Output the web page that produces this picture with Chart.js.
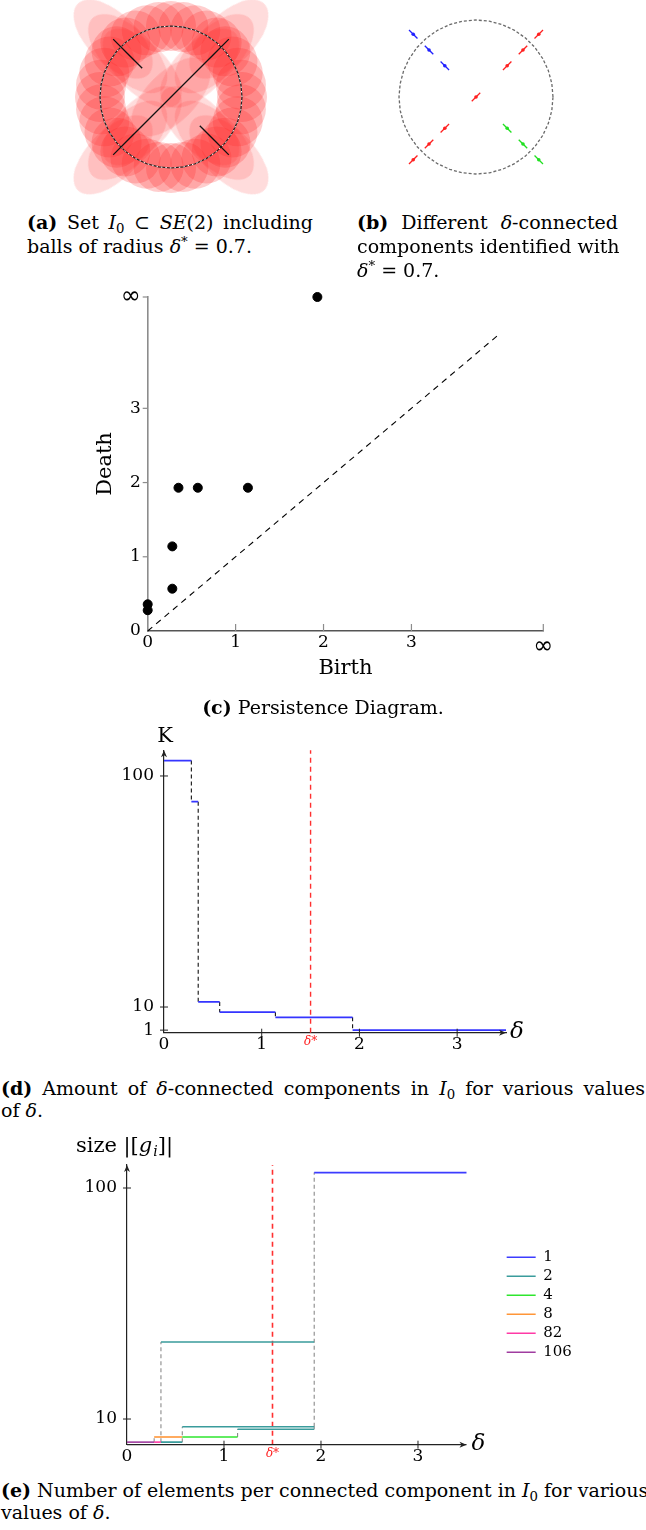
<!DOCTYPE html>
<html>
<head>
<meta charset="utf-8">
<script src="https://cdn.jsdelivr.net/npm/chart.js@4.4.1/dist/chart.umd.min.js"></script>
<style>
  body { margin: 0; background: #fff; }
  #page { position: relative; width: 646px; height: 1530px; overflow: hidden; font-family: 'DejaVu Serif', serif; color: #000; }
  canvas { position: absolute; }
  .cap { position: absolute; font-size: 19px; line-height: 24px; white-space: nowrap; }
  .just { text-align: justify; text-align-last: justify; }
  .cap sub { font-size: 70%; vertical-align: -0.3em; line-height: 0; }
  .cap sup { font-size: 70%; vertical-align: 0.5em; line-height: 0; }
</style>
</head>
<body>
<div id="page">
  <canvas id="ballsA" width="250" height="200" style="left:46px;top:-3px"></canvas>
  <canvas id="compsB" width="250" height="200" style="left:351px;top:-3px"></canvas>
  <canvas id="pers" width="540" height="430" style="left:40px;top:270px"></canvas>
  <canvas id="count" width="500" height="350" style="left:60px;top:720px"></canvas>
  <canvas id="sizes" width="626" height="345" style="left:20px;top:1130px"></canvas>

  <div class="cap just" style="left:27px;top:210px;width:286px"><b>(a)</b> Set <i>I</i><sub>0</sub> ⊂ <i>SE</i>(2) including</div>
  <div class="cap" style="left:27px;top:234px">balls of radius <i>δ</i><sup>*</sup> = 0.7.</div>
  <div class="cap just" style="left:357px;top:210px;width:261px"><b>(b)</b> Different <i>δ</i>-connected</div>
  <div class="cap just" style="left:357px;top:234px;width:261px">components identified with</div>
  <div class="cap" style="left:357px;top:258px"><i>δ</i><sup>*</sup> = 0.7.</div>
  <div class="cap" style="left:0;top:695px;width:646px;text-align:center"><b>(c)</b> Persistence Diagram.</div>
  <div class="cap just" style="left:1px;top:1076px;width:644px"><b>(d)</b> Amount of <i>δ</i>-connected components in <i>I</i><sub>0</sub> for various values</div>
  <div class="cap" style="left:1px;top:1098px">of <i>δ</i>.</div>
  <div class="cap just" style="left:1px;top:1478px;width:644px"><b>(e)</b> Number of elements per connected component in <i>I</i><sub>0</sub> for various</div>
  <div class="cap" style="left:1px;top:1500px">values of <i>δ</i>.</div>
</div>
<script>
// sample set I0: points on the circle plus three diagonal arms
const ringAngles = [0, 10, 20, 30, 40, 50, 60, 70, 80, 90, 100, 110, 120, 130, 140, 150, 160, 170,
                    180, 190, 200, 210, 220, 230, 240, 250, 260, 270, 280, 290, 300, 310, 320, 330, 340, 350];
const ringRadius = 2;
const armX = [-0.81, -1.22, -1.63, 0.81, 1.22, 1.63, 0, -0.81, -1.22, -1.63, 0.81, 1.22, 1.63];
const armY = [0.81, 1.22, 1.63, 0.81, 1.22, 1.63, 0, -0.81, -1.22, -1.63, -0.81, -1.22, -1.63];
const armTilt = [45, 45, 45, -45, -45, -45, -45, -45, -45, -45, 45, 45, 45];
const armComponent = [1, 1, 1, 2, 2, 2, 2, 2, 2, 2, 3, 3, 3];

// persistence diagram
const pdBirth = [0, 0, 0.28, 0.28, 0.35, 0.57, 1.14, 1.93];
const pdDeath = [0.28, 0.36, 0.57, 1.14, 1.93, 1.93, 1.93, Infinity];
const pdTicks = [0, 1, 2, 3, Infinity];
const diagEnd = 4;

// number of components K against delta
const kDelta = [0, 0.28, 0.35, 0.57, 1.14, 1.93, 3.5];
const kCount = [106, 90, 12, 8, 6, 1];
const kTicks = [1, 10, 100];
const deltaTicks = [0, 1, 1.5, 2, 3];
const deltaStar = 1.5;

// component sizes against delta (horizontal pieces: from, to, size)
const sizeLabels = ['1', '2', '4', '8', '82', '106'];
const s1From = [1.93], s1To = [3.5], s1Size = [106];
const s2From = [0.35, 0.57, 1.14, 0.35], s2To = [0.57, 1.93, 1.93, 1.93], s2Size = [1, 7, 6, 40];
const s4From = [0.57], s4To = [1.14], s4Size = [3];
const s8From = [0.28], s8To = [0.57], s8Size = [3];
const s82From = [0.28], s82To = [0.35], s82Size = [1];
const s106From = [0], s106To = [0.28], s106Size = [1];
const mergeAt = [0.28, 0.35, 0.57, 1.14, 1.93, 1.93];
const mergeFrom = [1, 1, 1, 3, 6, 7];
const mergeTo = [3, 40, 7, 6, 7, 106];
const sizeTicks = [10, 100];

const SERIF = 'DejaVu Serif';
Chart.defaults.font.family = SERIF;
Chart.defaults.color = '#000';

const infPos = 4.5;
const toPos = v => (v === Infinity ? infPos : v);
const ringPts = ringAngles.map(a => ({ x: ringRadius * Math.cos(a * Math.PI / 180), y: ringRadius * Math.sin(a * Math.PI / 180) }));
const ringLoop = ringPts.concat([ringPts[0]]);
const armPts = armX.map((x, i) => ({ x: x, y: armY[i] }));
const nwArm = armPts.slice(0, 3);
const mainArm = [armPts[9], armPts[8], armPts[7], armPts[6], armPts[3], armPts[4], armPts[5]];
const seArm = armPts.slice(10, 13);
const compColor = { 1: '#2020ff', 2: '#ff2020', 3: '#20e020' };

function fixedTicks(values) {
  return scale => { scale.ticks = values.map(v => ({ value: v })); };
}
function segments(from, to, level) {
  const pts = [];
  from.forEach((f, i) => { pts.push({ x: f, y: level[i] }, { x: to[i], y: level[i] }, { x: to[i], y: null }); });
  return pts;
}
function links(at, lo, hi) {
  const pts = [];
  at.forEach((a, i) => { pts.push({ x: a, y: lo[i] }, { x: a, y: hi[i] }, { x: a, y: null }); });
  return pts;
}
function stamp(w, h, color) {
  const c = document.createElement('canvas');
  c.width = w; c.height = h;
  const g = c.getContext('2d');
  g.fillStyle = color;
  g.beginPath(); g.ellipse(w / 2, h / 2, w / 2, h / 2, 0, 0, Math.PI * 2); g.fill();
  return c;
}
function arrowUp(ctx, x, y) {
  ctx.beginPath(); ctx.moveTo(x, y); ctx.lineTo(x - 3, y + 7); ctx.lineTo(x, y + 5); ctx.lineTo(x + 3, y + 7); ctx.closePath(); ctx.fill();
}
function arrowRight(ctx, x, y) {
  ctx.beginPath(); ctx.moveTo(x, y); ctx.lineTo(x - 7, y - 3); ctx.lineTo(x - 5, y); ctx.lineTo(x - 7, y + 3); ctx.closePath(); ctx.fill();
}
function deco(draw) {
  return { id: 'deco', afterDatasetsDraw(chart) { const ctx = chart.ctx; ctx.save(); draw(chart, ctx); ctx.restore(); } };
}
// hidden axis pinned exactly to [min, max]
const hidden = (min, max) => ({ type: 'linear', display: false, min: min, max: max,
  afterBuildTicks: s => { s.ticks = [{ value: min }, { value: max }]; s.min = min; s.max = max; } });
const base = { responsive: false, animation: false, events: [], devicePixelRatio: 1 };
const quiet = { legend: { display: false }, tooltip: { enabled: false } };
const line = (data, color, width, dash) => ({ type: 'line', data: data, borderColor: color, borderWidth: width, borderDash: dash || [], pointRadius: 0, showLine: true, spanGaps: false, fill: false, clip: false });
const tickFont = { family: SERIF, size: 17 };
const infFont = { family: 'DejaVu Sans', size: 24 };

// (a) balls around the sample set
new Chart(document.getElementById('ballsA'), {
  type: 'scatter',
  data: { datasets: [
    line(seArm, '#111', 1.3), line(seArm, '#fff', 1, [1, 3]),
    line(mainArm, '#111', 1.3), line(mainArm, '#fff', 1, [1, 3]),
    line(nwArm, '#111', 1.3), line(nwArm, '#fff', 1, [1, 3]),
    line(ringLoop, '#fff', 1, [1.5, 3]),
    line(ringLoop, '#222', 1.2),
    { data: armPts, pointStyle: stamp(100, 50, 'rgba(255,40,40,0.16)'), rotation: c => armTilt[c.dataIndex], pointRadius: 10, clip: false },
    { data: ringPts, pointRadius: 25, backgroundColor: 'rgba(255,30,30,0.22)', borderWidth: 0, clip: false }
  ] },
  options: Object.assign({}, base, { plugins: quiet, layout: { padding: 0, autoPadding: false }, scales: { x: hidden(-125 / 35.5, 125 / 35.5), y: hidden(-100 / 35.5, 100 / 35.5) } })
});

// (b) delta-connected components
new Chart(document.getElementById('compsB'), {
  type: 'scatter',
  data: { datasets: [
    { data: armPts, pointStyle: 'circle', pointRadius: 1.8, backgroundColor: armComponent.map(k => compColor[k]), borderWidth: 0 },
    { data: armPts, pointStyle: 'line', rotation: c => armTilt[c.dataIndex], pointRadius: 6, borderWidth: 1.3, borderColor: armComponent.map(k => compColor[k]) },
    line(ringLoop, '#6a6a6a', 1.3, [3, 2])
  ] },
  options: Object.assign({}, base, { plugins: quiet, layout: { padding: 0, autoPadding: false }, scales: { x: hidden(-125 / 38.5, 125 / 38.5), y: hidden(-100 / 38.5, 100 / 38.5) } })
});

// (c) persistence diagram
const pdTickOpts = {
  autoSkip: false, maxRotation: 0,
  font: c => (c.tick && c.tick.value === infPos ? infFont : tickFont),
  callback: v => (v === infPos ? '∞' : String(v))
};
new Chart(document.getElementById('pers'), {
  type: 'scatter',
  data: { datasets: [
    { data: pdBirth.map((b, i) => ({ x: b, y: toPos(pdDeath[i]) })), backgroundColor: '#000', borderColor: '#000', pointRadius: 4.5, clip: false },
    line([{ x: 0, y: 0 }, { x: diagEnd, y: diagEnd }], '#000', 1.1, [6, 5])
  ] },
  options: Object.assign({}, base, {
    layout: { padding: { left: 0, top: 27, right: 36.7, bottom: 0 }, autoPadding: false },
    plugins: quiet,
    scales: {
      x: { type: 'linear', min: 0, max: infPos, afterBuildTicks: fixedTicks(pdTicks.map(toPos)), afterFit: s => { s.height = 69; },
           grid: { display: false, drawTicks: false }, border: { color: '#555', width: 1.4 },
           ticks: Object.assign({ padding: 1 }, pdTickOpts),
           title: { display: true, text: 'Birth', font: { size: 21 }, padding: { top: 0, bottom: 19 } } },
      y: { type: 'linear', min: 0, max: infPos, afterBuildTicks: fixedTicks(pdTicks.map(toPos)), afterFit: s => { s.width = 107.7; },
           grid: { display: false, drawTicks: false }, border: { color: '#8c8c8c', width: 1.6 },
           ticks: Object.assign({ padding: 7 }, pdTickOpts),
           title: { display: true, text: 'Death', font: { size: 21 }, padding: { top: 53, bottom: 0 } } }
    }
  }),
  plugins: [deco((chart, ctx) => {
    const xs = chart.scales.x, ys = chart.scales.y, a = chart.chartArea;
    ctx.strokeStyle = '#8c8c8c'; ctx.lineWidth = 1.2;
    pdTicks.slice(1).forEach(v => {
      const py = ys.getPixelForValue(toPos(v));
      ctx.beginPath(); ctx.moveTo(a.left - 5, py); ctx.lineTo(a.left, py); ctx.stroke();
      const px = xs.getPixelForValue(toPos(v));
      ctx.beginPath(); ctx.moveTo(px, a.bottom); ctx.lineTo(px, a.bottom - 7); ctx.stroke();
    });
  })]
});

// (d) amount of components
const kSteps = segments(kDelta.slice(0, -1), kDelta.slice(1), kCount);
const kDrops = links(kDelta.slice(1, -1), kCount.slice(0, -1), kCount.slice(1));
const deltaTickOpts = {
  autoSkip: false, maxRotation: 0, padding: 2,
  color: c => (c.tick && c.tick.value === deltaStar ? '#ff2020' : '#000'),
  font: c => (c.tick && c.tick.value === deltaStar ? { family: SERIF, size: 12, style: 'italic' } : tickFont),
  callback: v => (v === deltaStar ? 'δ*' : String(v))
};
new Chart(document.getElementById('count'), {
  type: 'scatter',
  data: { datasets: [
    line(kSteps, '#3535ff', 1.8),
    line(kDrops, '#111', 1.1, [4, 3]),
    line([{ x: deltaStar, y: 0 }, { x: deltaStar, y: 110 }], '#ff3030', 1.4, [5, 4])
  ] },
  options: Object.assign({}, base, {
    layout: { padding: { left: 0, top: 30.3, right: 54, bottom: 0 }, autoPadding: false },
    plugins: quiet,
    scales: {
      x: { type: 'linear', min: 0, max: kDelta[kDelta.length - 1], afterBuildTicks: fixedTicks(deltaTicks), afterFit: s => { s.height = 37.3; },
           grid: { display: false, drawTicks: false }, border: { color: '#222', width: 1.2 }, ticks: deltaTickOpts },
      y: { type: 'linear', min: 0, max: 110, afterBuildTicks: fixedTicks(kTicks), afterFit: s => { s.width = 104; },
           grid: { display: false, drawTicks: false }, border: { color: '#222', width: 1.2 },
           ticks: { autoSkip: false, padding: 10, font: tickFont, callback: v => String(v) } }
    }
  }),
  plugins: [deco((chart, ctx) => {
    const xs = chart.scales.x, ys = chart.scales.y, a = chart.chartArea;
    ctx.strokeStyle = '#222'; ctx.fillStyle = '#222'; ctx.lineWidth = 1;
    kTicks.forEach(v => { const py = ys.getPixelForValue(v); ctx.beginPath(); ctx.moveTo(a.left - 4, py); ctx.lineTo(a.left + 4, py); ctx.stroke(); });
    [1, 2, 3].forEach(v => { const px = xs.getPixelForValue(v); ctx.beginPath(); ctx.moveTo(px, a.bottom - 4); ctx.lineTo(px, a.bottom + 4); ctx.stroke(); });
    arrowUp(ctx, a.left, a.top);
    arrowRight(ctx, a.right, a.bottom);
    ctx.fillStyle = '#000'; ctx.textBaseline = 'middle';
    ctx.font = '21px ' + SERIF; ctx.textAlign = 'center';
    ctx.fillText('K', a.left + 1, a.top - 14);
    ctx.font = 'italic 23px ' + SERIF; ctx.textAlign = 'left';
    ctx.fillText('δ', a.right + 4, a.bottom - 1);
  })]
});

// (e) elements per component
const sizeEnd = s1To[0];
new Chart(document.getElementById('sizes'), {
  type: 'scatter',
  data: { datasets: [
    Object.assign(line(segments(s1From, s1To, s1Size), '#3c3cff', 1.6), { label: sizeLabels[0] }),
    Object.assign(line(segments(s2From, s2To, s2Size), '#3a9c9c', 1.6), { label: sizeLabels[1] }),
    Object.assign(line(segments(s4From, s4To, s4Size), '#2ee62e', 1.6), { label: sizeLabels[2] }),
    Object.assign(line(segments(s8From, s8To, s8Size), '#ff9638', 1.6), { label: sizeLabels[3] }),
    Object.assign(line(segments(s82From, s82To, s82Size), '#ff3aa6', 1.6), { label: sizeLabels[4] }),
    Object.assign(line(segments(s106From, s106To, s106Size), '#a03ca0', 1.6), { label: sizeLabels[5] }),
    line(links(mergeAt, mergeFrom, mergeTo), '#8a8a8a', 1.1, [4, 3]),
    line([{ x: deltaStar, y: 0 }, { x: deltaStar, y: 109 }], '#ff3030', 1.6, [5, 4])
  ] },
  options: Object.assign({}, base, {
    layout: { padding: { left: 0, top: 34.9, right: 64.2, bottom: 0 }, autoPadding: false },
    plugins: {
      tooltip: { enabled: false },
      legend: { display: true, position: 'right', align: 'center', fullSize: false,
        labels: { usePointStyle: true, pointStyle: 'line', pointStyleWidth: 29, padding: 4, font: { size: 15 }, color: '#000',
                  filter: item => sizeLabels.includes(item.text) } }
    },
    scales: {
      x: { type: 'linear', min: 0, max: 3.873, afterBuildTicks: fixedTicks(deltaTicks), afterFit: s => { s.height = 30.3; },
           grid: { display: false, drawTicks: false }, border: { display: false }, ticks: deltaTickOpts },
      y: { type: 'linear', min: 0, max: 109, afterBuildTicks: fixedTicks(sizeTicks), afterFit: s => { s.width = 107; },
           grid: { display: false, drawTicks: false }, border: { color: '#222', width: 1.2 },
           ticks: { autoSkip: false, padding: 10, font: tickFont, callback: v => String(v) } }
    }
  }),
  plugins: [deco((chart, ctx) => {
    const xs = chart.scales.x, ys = chart.scales.y, a = chart.chartArea;
    const xEnd = xs.getPixelForValue(sizeEnd);
    ctx.strokeStyle = '#222'; ctx.fillStyle = '#222'; ctx.lineWidth = 1.2;
    ctx.beginPath(); ctx.moveTo(a.left, a.bottom); ctx.lineTo(xEnd, a.bottom); ctx.stroke();
    ctx.lineWidth = 1;
    sizeTicks.forEach(v => { const py = ys.getPixelForValue(v); ctx.beginPath(); ctx.moveTo(a.left - 4, py); ctx.lineTo(a.left + 4, py); ctx.stroke(); });
    [1, 2, 3].forEach(v => { const px = xs.getPixelForValue(v); ctx.beginPath(); ctx.moveTo(px, a.bottom - 4); ctx.lineTo(px, a.bottom + 4); ctx.stroke(); });
    arrowUp(ctx, a.left, a.top);
    arrowRight(ctx, xEnd, a.bottom);
    ctx.fillStyle = '#000'; ctx.textBaseline = 'middle';
    ctx.font = 'italic 23px ' + SERIF; ctx.textAlign = 'left';
    ctx.fillText('δ', xEnd + 5, a.bottom - 1);
    // "size |[g_i]|" written right to left from its end
    let x = a.left + 46;
    const y = a.top - 18;
    ctx.textAlign = 'right';
    ctx.font = '21px ' + SERIF; ctx.fillText(']|', x, y); x -= ctx.measureText(']|').width;
    ctx.font = 'italic 14px ' + SERIF; ctx.fillText('i', x, y + 5); x -= ctx.measureText('i').width + 1;
    ctx.font = 'italic 21px ' + SERIF; ctx.fillText('g', x, y); x -= ctx.measureText('g').width;
    ctx.font = '21px ' + SERIF; ctx.fillText('size |[', x, y);
  })]
});
</script>
</body>
</html>
